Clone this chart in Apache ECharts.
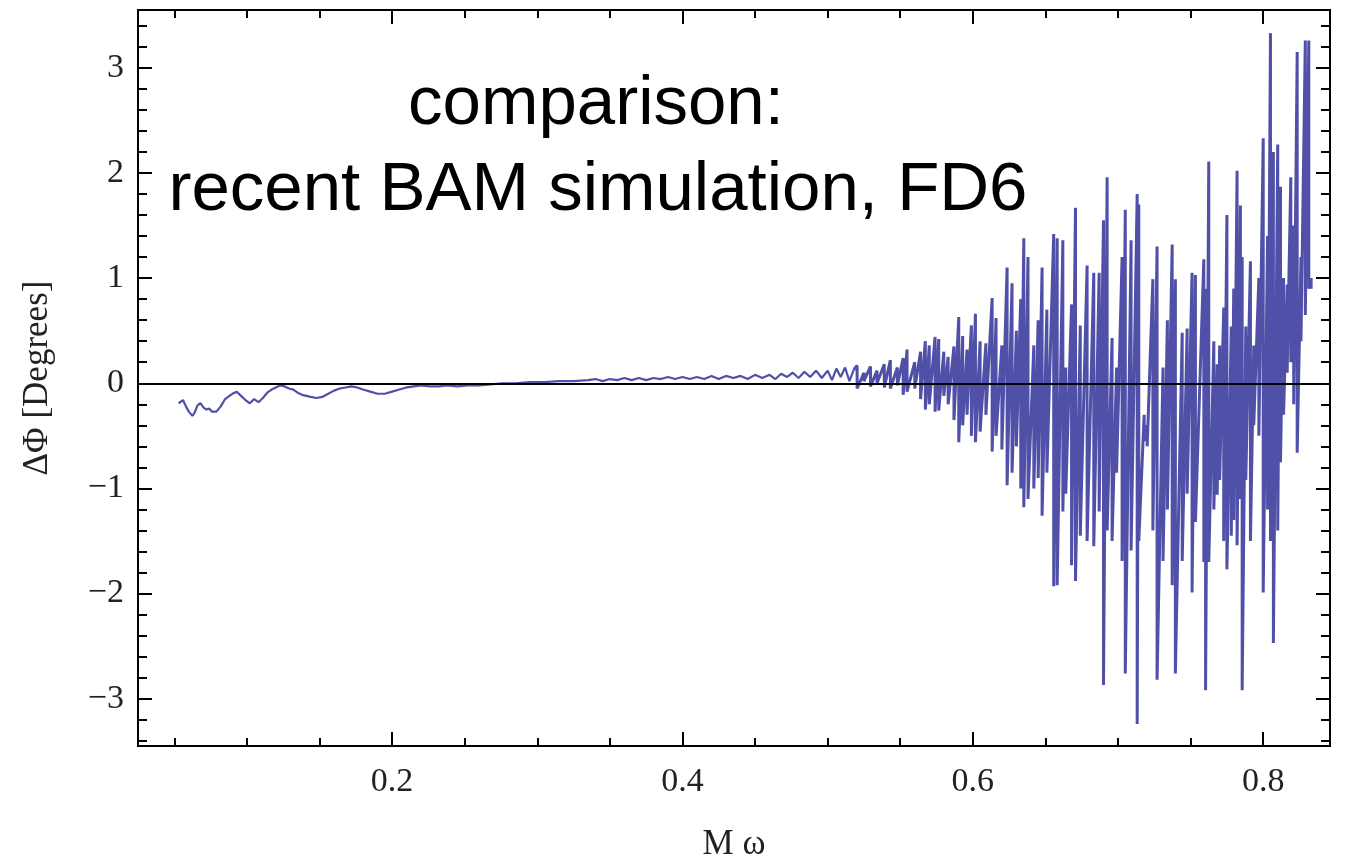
<!DOCTYPE html>
<html>
<head>
<meta charset="utf-8">
<title>Phase difference</title>
<script src="https://cdn.jsdelivr.net/npm/echarts@6/dist/echarts.min.js"></script>
<style>
  html, body { margin: 0; padding: 0; background: #fff; }
  #chart { width: 1345px; height: 858px; }
</style>
</head>
<body>
<div id="chart"></div>
<script>
// low-frequency part of the phase difference (M omega, degrees)
const mw = [
  0.053, 0.056, 0.058, 0.060, 0.0625, 0.064, 0.066, 0.068, 0.070, 0.072, 0.074, 0.076, 0.079,
  0.082, 0.085, 0.087, 0.090, 0.093, 0.096, 0.099, 0.102, 0.105, 0.108, 0.111, 0.114, 0.117,
  0.120, 0.123, 0.126, 0.129, 0.132, 0.135, 0.138, 0.141, 0.144, 0.148, 0.152, 0.156, 0.160,
  0.164, 0.168, 0.172, 0.176, 0.180, 0.185, 0.190, 0.195, 0.200, 0.205, 0.210, 0.215, 0.220,
  0.226, 0.232, 0.238, 0.245, 0.252, 0.260, 0.268, 0.276, 0.285, 0.295, 0.305, 0.315, 0.325,
  0.335, 0.340, 0.345, 0.350, 0.355, 0.360, 0.365, 0.370, 0.375, 0.380, 0.385, 0.390, 0.395,
  0.400, 0.405, 0.410, 0.415, 0.420, 0.425, 0.430, 0.435, 0.440, 0.445, 0.450, 0.455, 0.460,
  0.464, 0.468, 0.472, 0.476, 0.480, 0.484, 0.488, 0.492, 0.496, 0.500, 0.503, 0.506, 0.509,
  0.512, 0.515, 0.518
];
const dphi = [
  -0.19, -0.16, -0.22, -0.27, -0.31, -0.28, -0.21, -0.19, -0.23, -0.25, -0.24, -0.27, -0.27,
  -0.22, -0.15, -0.13, -0.10, -0.08, -0.12, -0.16, -0.19, -0.15, -0.18, -0.14, -0.09, -0.06,
  -0.04, -0.02, -0.03, -0.05, -0.06, -0.09, -0.11, -0.12, -0.13, -0.14, -0.13, -0.10, -0.07,
  -0.05, -0.04, -0.03, -0.04, -0.06, -0.08, -0.10, -0.10, -0.08, -0.06, -0.04, -0.03, -0.02,
  -0.03, -0.03, -0.02, -0.03, -0.02, -0.02, -0.01, 0.00, 0.00, 0.01, 0.01, 0.02, 0.02,
  0.03, 0.04, 0.02, 0.04, 0.03, 0.05, 0.03, 0.05, 0.03, 0.05, 0.04, 0.06, 0.04,
  0.06, 0.04, 0.06, 0.04, 0.07, 0.04, 0.07, 0.05, 0.07, 0.04, 0.08, 0.05, 0.08,
  0.04, 0.09, 0.06, 0.10, 0.05, 0.11, 0.06, 0.12, 0.05, 0.12, 0.03, 0.14, 0.06,
  0.15, 0.02, 0.13
];

// high-frequency part: each oscillation drawn from its top to its bottom
const spikeMw = [
  0.5203, 0.5250, 0.5295, 0.5340, 0.5390, 0.5432, 0.5480, 0.5520, 0.5547, 0.5600, 0.5640, 0.5673,
  0.5700, 0.5740, 0.5765, 0.5800, 0.5830, 0.5870, 0.5903, 0.5930, 0.5960, 0.5990, 0.6018, 0.6050,
  0.6090, 0.6133, 0.6160, 0.6200, 0.6236, 0.6270, 0.6300, 0.6330, 0.6351, 0.6380, 0.6420, 0.6450,
  0.6477, 0.6510, 0.6557, 0.6581, 0.6620, 0.6640, 0.6680, 0.6707, 0.6740, 0.6787, 0.6833, 0.6870,
  0.6900, 0.6925, 0.6959, 0.6990, 0.7028, 0.7050, 0.7090, 0.7132, 0.7143, 0.7180, 0.7201, 0.7240,
  0.7269, 0.7310, 0.7340, 0.7373, 0.7395, 0.7442, 0.7476, 0.7510, 0.7533, 0.7591, 0.7603, 0.7625,
  0.7660, 0.7683, 0.7700, 0.7728, 0.7750, 0.7780, 0.7797, 0.7820, 0.7843, 0.7855, 0.7880, 0.7912,
  0.7935, 0.7970, 0.8000, 0.8030, 0.8050, 0.8070, 0.8100, 0.8119, 0.8140, 0.8165, 0.8190, 0.8210,
  0.8234, 0.8260, 0.8290, 0.8314, 0.8330
];
const spikeTop = [
  0.17, 0.10, 0.16, 0.12, 0.18, 0.22, 0.15, 0.24, 0.32, 0.20, 0.30, 0.40,
  0.36, 0.44, 0.42, 0.30, 0.25, 0.35, 0.63, 0.45, 0.32, 0.55, 0.66, 0.40,
  0.38, 0.81, 0.62, 0.36, 1.10, 0.95, 0.50, 0.80, 1.38, 1.20, 0.36, 0.60,
  1.10, 0.70, 1.42, 1.38, 1.36, 0.15, 0.75, 1.67, 0.55, 1.12, 1.05, 1.05,
  1.55, 1.96, 0.43, 0.15, 1.20, 1.65, 1.36, 1.80, 1.70, -0.30, -0.40, 0.99,
  1.30, 0.15, 0.60, 1.32, 0.99, 0.48, 0.52, 1.05, 1.03, 1.18, 0.90, 2.11,
  0.40, 0.18, 0.36, 0.72, 1.60, 0.54, 0.90, 2.02, 1.69, 1.20, 0.54, 1.16,
  0.36, 1.00, 2.33, 1.40, 3.33, 2.20, 2.27, 1.87, 1.00, 0.94, 1.96, 1.50,
  3.15, 1.20, 3.26, 3.26, 1.00
];
const spikeBottom = [
  -0.05, 0.02, -0.03, 0.00, -0.04, -0.05, -0.02, -0.11, -0.08, -0.05, -0.15, -0.25,
  -0.20, -0.27, -0.26, -0.12, -0.20, -0.35, -0.56, -0.40, -0.30, -0.50, -0.56, -0.46,
  -0.30, -0.65, -0.50, -0.63, -0.97, -0.85, -0.60, -1.00, -1.18, -1.10, -1.00, -0.90,
  -1.26, -0.85, -1.93, -1.92, -1.22, -1.05, -1.73, -1.88, -1.45, -1.50, -1.55, -1.22,
  -2.87, -1.40, -1.50, -0.85, -1.69, -2.76, -1.59, -3.24, -1.50, -0.55, -0.60, -1.40,
  -2.82, -1.69, -1.20, -1.92, -2.76, -1.69, -1.05, -1.99, -1.32, -1.70, -2.92, -1.70,
  -1.20, -1.06, -0.92, -1.50, -1.77, -1.45, -1.30, -1.54, -1.10, -2.92, -0.92, -1.50,
  -0.40, -0.50, -1.99, -1.20, -1.50, -2.47, -1.40, -0.75, -0.30, 0.10, 0.20, -0.20,
  -0.66, 0.40, 0.65, 0.90, 0.90
];

const xMajor = [0.2, 0.4, 0.6, 0.8];
const xMinor = [0.05, 0.1, 0.15, 0.25, 0.3, 0.35, 0.45, 0.5, 0.55, 0.65, 0.7, 0.75];
const yMajor = [-3, -2, -1, 0, 1, 2, 3];
const yMinor = [
  -3.4, -3.2, -2.8, -2.6, -2.4, -2.2, -1.8, -1.6, -1.4, -1.2, -0.8, -0.6, -0.4, -0.2,
  0.2, 0.4, 0.6, 0.8, 1.2, 1.4, 1.6, 1.8, 2.2, 2.4, 2.6, 2.8, 3.2, 3.4
];

const smoothData = mw.map((x, i) => [x, dphi[i]]);
// the oscillating part continues from the last smooth point
const spikeData = [smoothData[smoothData.length - 1]];
spikeMw.forEach((x, i) => {
  spikeData.push([x, spikeTop[i]]);
  spikeData.push([x, spikeBottom[i]]);
});

const serifFont = '"Liberation Serif", "Times New Roman", serif';
const sansFont = '"Liberation Sans", Helvetica, Arial, sans-serif';
const lineColor = '#5050a8';
const xRange = { min: 0.025, max: 0.846 };
const yRange = { min: -3.45, max: 3.55 };

// frame axis helper (major or minor ticks, any side)
const frameAxis = (range, position, ticks, len, showLabel) => ({
  type: 'value',
  min: range.min,
  max: range.max,
  position: position,
  splitLine: { show: false },
  axisLine: { show: true, onZero: false, lineStyle: { color: '#000', width: 2 } },
  axisTick: {
    show: true, inside: true, length: len, customValues: ticks,
    lineStyle: { color: '#000', width: 2 }
  },
  axisLabel: showLabel ? {
    show: true, customValues: ticks, fontFamily: serifFont, fontSize: 34, color: '#222',
    margin: position === 'bottom' ? 19 : 14,
    formatter: v => (v < 0 ? '\u2212' + Math.abs(v) : String(v))
  } : { show: false }
});

const chart = echarts.init(document.getElementById('chart'));

const xMain = frameAxis(xRange, 'bottom', xMajor, 14, true);
xMain.name = 'M \u03c9';
xMain.nameLocation = 'middle';
xMain.nameGap = 81;
xMain.nameTextStyle = { fontFamily: serifFont, fontSize: 35, color: '#222' };

const yMain = frameAxis(yRange, 'left', yMajor, 14, true);
yMain.name = '\u0394\u03a6 [Degrees]';
yMain.nameLocation = 'middle';
yMain.nameGap = 83;
yMain.nameTextStyle = { fontFamily: serifFont, fontSize: 35, color: '#222' };

chart.setOption({
  animation: false,
  backgroundColor: '#fff',
  grid: { left: 138, right: 15, top: 10, bottom: 112, outerBoundsMode: 'none' },
  xAxis: [
    xMain,
    frameAxis(xRange, 'top', xMajor, 14, false),
    frameAxis(xRange, 'bottom', xMinor, 8, false),
    frameAxis(xRange, 'top', xMinor, 8, false)
  ],
  yAxis: [
    yMain,
    frameAxis(yRange, 'right', yMajor, 14, false),
    frameAxis(yRange, 'left', yMinor, 9, false),
    frameAxis(yRange, 'right', yMinor, 9, false)
  ],
  graphic: [
    {
      type: 'text',
      z: 100,
      style: {
        text: 'comparison:', x: 596, y: 105, textAlign: 'center', textVerticalAlign: 'middle',
        fontFamily: sansFont, fontSize: 69, fill: '#000'
      }
    },
    {
      type: 'text',
      z: 100,
      style: {
        text: 'recent BAM simulation, FD6', x: 598, y: 191, textAlign: 'center', textVerticalAlign: 'middle',
        fontFamily: sansFont, fontSize: 69, fill: '#000'
      }
    }
  ],
  series: [
    {
      type: 'line',
      data: smoothData,
      showSymbol: false,
      sampling: 'none',
      lineStyle: { color: lineColor, width: 2.2 },
      markLine: {
        silent: true,
        symbol: 'none',
        label: { show: false },
        lineStyle: { color: '#000', width: 2, type: 'solid' },
        data: [{ yAxis: 0 }]
      }
    },
    {
      type: 'line',
      data: spikeData,
      showSymbol: false,
      sampling: 'none',
      lineStyle: { color: lineColor, width: 3 }
    }
  ]
});
</script>
</body>
</html>
